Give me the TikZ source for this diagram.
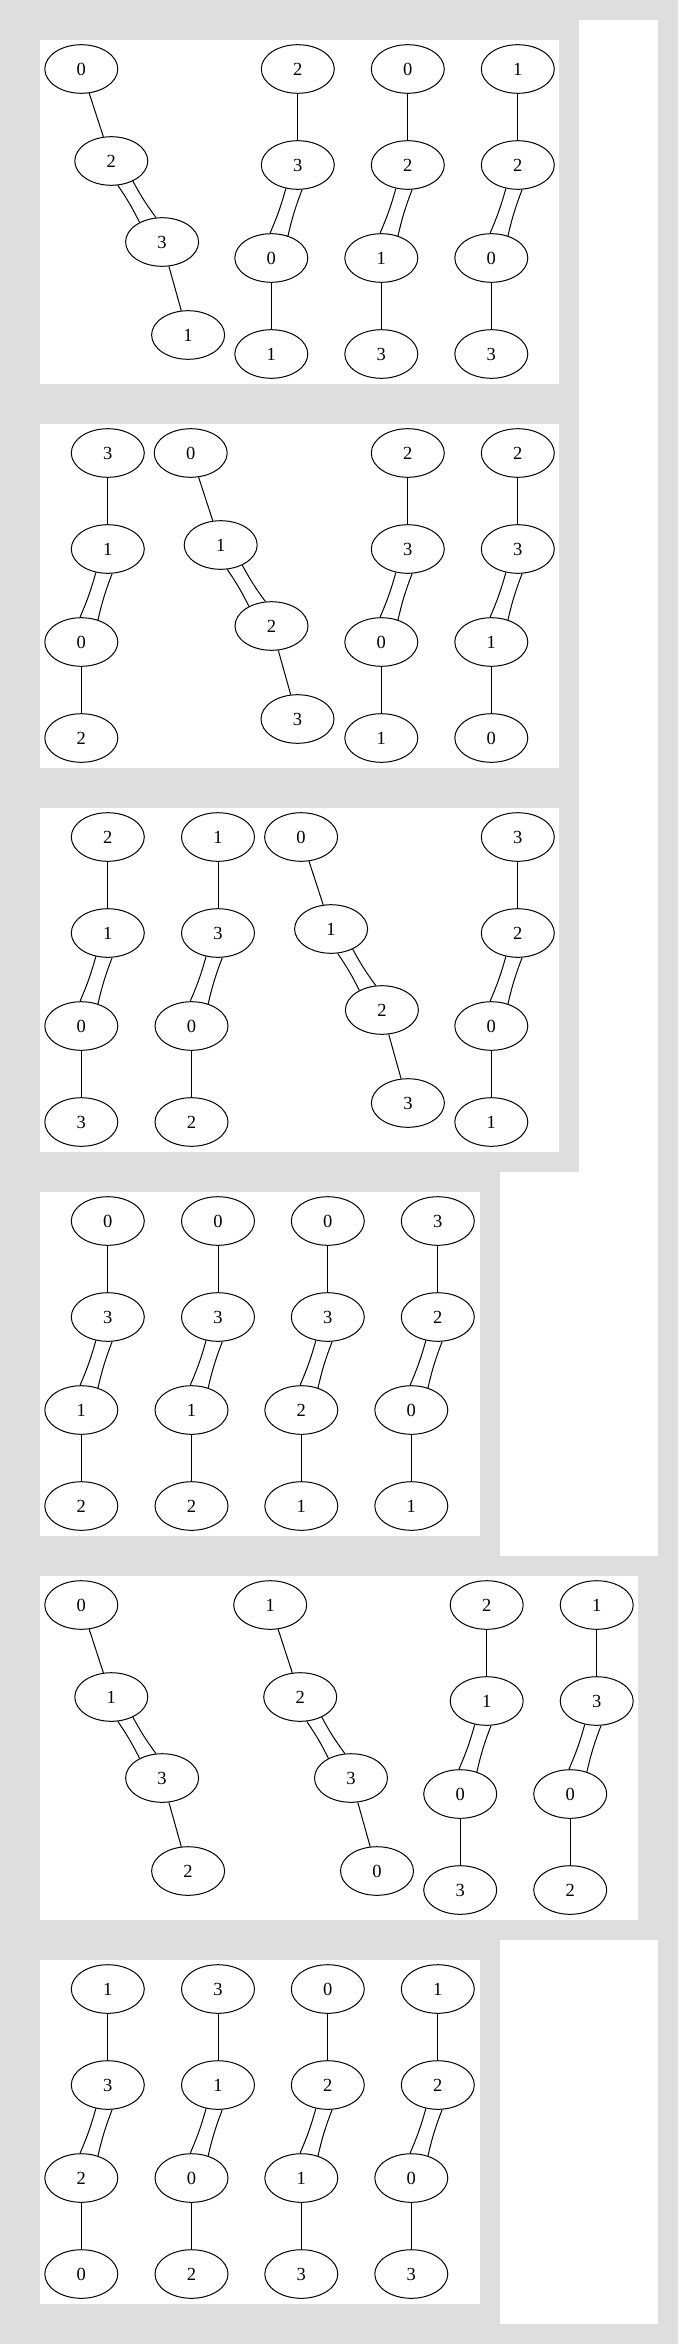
\documentclass[tikz,border=0pt]{standalone}
\usepackage{fontspec}
\setmainfont{Liberation Serif}
\usetikzlibrary{shapes.geometric}

\begin{document}
\begin{tikzpicture}[x=1pt,y=-1pt]
  \definecolor{framecolor}{HTML}{DEDEDE}
  \colorlet{sheetcolor}{white}
  \tikzset{vertex/.style={draw,ellipse,line width=1pt,minimum width=73pt,
      minimum height=48.6pt,inner sep=0pt,font=\fontsize{18.5}{20}\selectfont},
    link/.style={line width=1pt}}
  \pgfmathsetmacro{\dx}{26.5}

  \useasboundingbox (0,0) rectangle (678,2344);
  \fill[framecolor] (0,0) rectangle (678,2344);
  \fill[sheetcolor] (579,20) rectangle (658,1556);
  \fill[sheetcolor] (500,1172) rectangle (658,1556);
  \fill[sheetcolor] (500,1940) rectangle (658,2324);
  % the six panels
  \foreach \p/\w in {1/559,2/559,3/559,4/480,5/638,6/480}{
    \pgfmathsetmacro{\ptop}{40+384*(\p-1)}
    \fill[sheetcolor] (40,\ptop) rectangle (\w,\ptop+344);
  }

  % straight chains
  \foreach \p/\c/\x/\la/\lb/\lc/\ld in {1/2/271.3/2/3/0/1, 1/3/381.3/0/2/1/3,
      1/4/491.3/1/2/0/3, 2/1/81.3/3/1/0/2, 2/3/381.3/2/3/0/1, 2/4/491.3/2/3/1/0,
      3/1/81.3/2/1/0/3, 3/2/191.5/1/3/0/2, 3/4/491.3/3/2/0/1,
      4/1/81.3/0/3/1/2, 4/2/191.5/0/3/1/2, 4/3/301.3/0/3/2/1, 4/4/411.3/3/2/0/1,
      5/3/460.2/2/1/0/3, 5/4/570.2/1/3/0/2,
      6/1/81.3/1/3/2/0, 6/2/191.5/3/1/0/2, 6/3/301.3/0/2/1/3, 6/4/411.3/1/2/0/3}{
    \pgfmathsetmacro{\ptop}{40+384*(\p-1)}
    \node[vertex] (n\p-\c-1) at (\x+\dx,\ptop+29) {\la};
    \node[vertex] (n\p-\c-2) at (\x+\dx,\ptop+125) {\lb};
    \node[vertex] (n\p-\c-3) at (\x,\ptop+218) {\lc};
    \node[vertex] (n\p-\c-4) at (\x,\ptop+314) {\ld};
    \draw[link] (n\p-\c-1) -- (n\p-\c-2);
    \draw[link] (n\p-\c-2.243) to[bend left=4] (n\p-\c-3.93);
    \draw[link] (n\p-\c-2.280) to[bend right=4] (n\p-\c-3.53);
    \draw[link] (n\p-\c-3) -- (n\p-\c-4);
  }

  % slanted chains
  \foreach \p/\c/\x/\la/\lb/\lc/\ld in {1/1/81.3/0/2/3/1, 2/2/190.7/0/1/2/3,
      3/3/301.1/0/1/2/3, 5/1/81.3/0/1/3/2, 5/2/270.2/1/2/3/0}{
    \pgfmathsetmacro{\ptop}{40+384*(\p-1)}
    \node[vertex] (n\p-\c-1) at (\x,\ptop+29) {\la};
    \node[vertex] (n\p-\c-2) at (\x+30,\ptop+121) {\lb};
    \node[vertex] (n\p-\c-3) at (\x+80.8,\ptop+202) {\lc};
    \node[vertex] (n\p-\c-4) at (\x+106.8,\ptop+295) {\ld};
    \draw[link] (n\p-\c-1) -- (n\p-\c-2);
    \draw[link] (n\p-\c-2.285) to[bend left=4] (n\p-\c-3.139);
    \draw[link] (n\p-\c-2.317) to[bend right=4] (n\p-\c-3.104);
    \draw[link] (n\p-\c-3) -- (n\p-\c-4);
  }
\end{tikzpicture}
\end{document}
